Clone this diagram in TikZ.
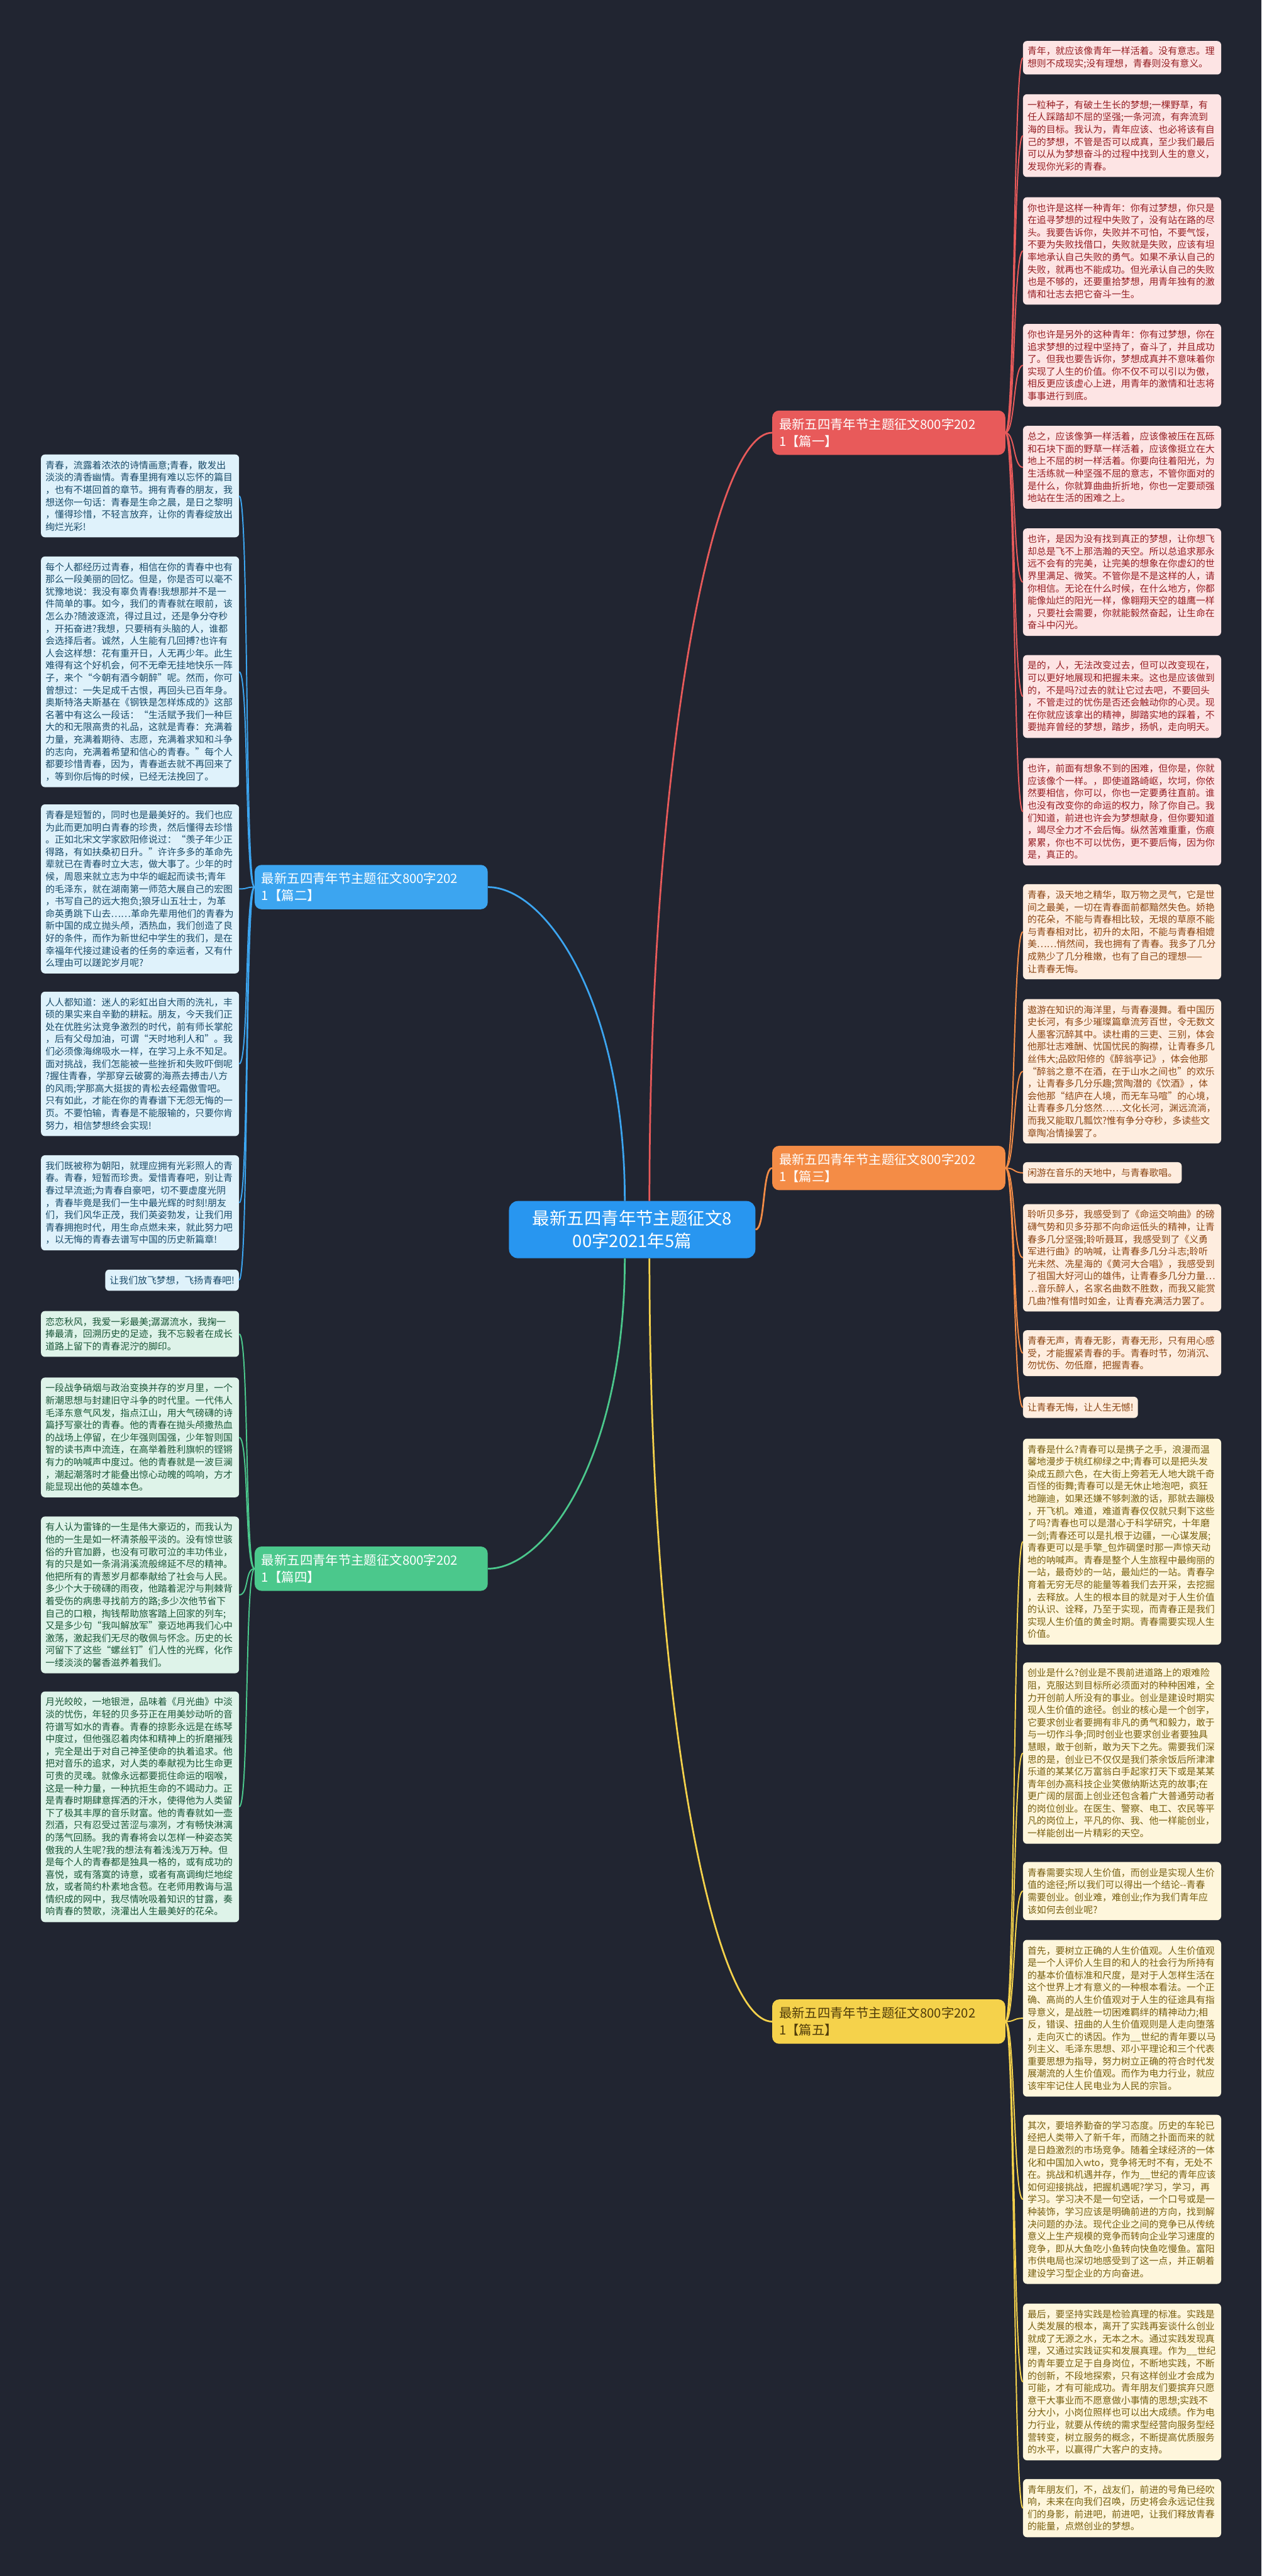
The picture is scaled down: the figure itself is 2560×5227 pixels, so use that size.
\documentclass[tikz,border=0pt]{standalone}
\usepackage{fontspec}
\newfontfamily\cjk{Noto Sans CJK SC}
\usetikzlibrary{calc}
\definecolor{bgdark}{RGB}{33,37,49}
\definecolor{rootblue}{RGB}{40,150,240}
\definecolor{rline}{RGB}{232,90,90}
\definecolor{rfill}{RGB}{253,228,228}
\definecolor{rtext}{RGB}{150,30,35}
\definecolor{oline}{RGB}{244,140,70}
\definecolor{ofill}{RGB}{254,237,223}
\definecolor{otext}{RGB}{140,70,20}
\definecolor{yline}{RGB}{245,210,75}
\definecolor{yfill}{RGB}{254,246,220}
\definecolor{ytext}{RGB}{120,95,15}
\definecolor{ydark}{RGB}{80,60,10}
\definecolor{bline}{RGB}{60,165,240}
\definecolor{bfill}{RGB}{223,242,251}
\definecolor{btext}{RGB}{25,75,105}
\definecolor{gline}{RGB}{75,200,140}
\definecolor{gfill}{RGB}{222,243,233}
\definecolor{gtext}{RGB}{25,85,55}

\begin{document}
\begin{tikzpicture}[x=1pt, y=-1pt,
    card/.style={anchor=north west, rounded corners=8pt, inner xsep=9pt, inner ysep=0pt,
      text width=384pt, align=left, minimum height={25pt*#1+18pt},
      font=\cjk\fontsize{19}{25}\selectfont},
    line1/.style={anchor=north west, rounded corners=8pt, inner xsep=9pt, inner ysep=0pt,
      minimum height=43pt, font=\cjk\fontsize{19}{25}\selectfont},
    rcard/.style={card=#1, fill=rfill, text=rtext},
    ocard/.style={card=#1, fill=ofill, text=otext},
    ycard/.style={card=#1, fill=yfill, text=ytext},
    bcard/.style={card=#1, fill=bfill, text=btext},
    gcard/.style={card=#1, fill=gfill, text=gtext},
    topic/.style={rounded corners=14pt, inner xsep=14pt, text width=445pt, align=left,
      minimum height=90pt, text=white, font=\cjk\fontsize{26}{34}\selectfont},
    wire/.style={line width=2.5pt},
    trunk/.style={line width=3.5pt}]

    % Background
    \fill[bgdark] (0,0) rectangle (2560,5227);
    \useasboundingbox (0,0) rectangle (2560,5227);

    % Root
    \node[fill=rootblue, text=white, rounded corners=18pt, minimum width=500pt,
      minimum height=116pt, align=center, font=\cjk\fontsize{35}{46}\selectfont]
      (root) at (1283,2495) {最新五四青年节主题征文8\\00字2021年5篇};

    % Topics
    \node[topic, fill=rline, anchor=west] (p1) at (1567,878) {最新五四青年节主题征文800字202\\1【篇一】};
    \node[topic, fill=bline, anchor=east] (p2) at (990,1800) {最新五四青年节主题征文800字202\\1【篇二】};
    \node[topic, fill=oline, anchor=west] (p3) at (1567,2370) {最新五四青年节主题征文800字202\\1【篇三】};
    \node[topic, fill=gline, anchor=east] (p4) at (990,3183) {最新五四青年节主题征文800字202\\1【篇四】};
    \node[topic, fill=yline, text=ydark, anchor=west] (p5) at (1567,4102) {最新五四青年节主题征文800字202\\1【篇五】};

    % Root to topics
    \draw[trunk, rline] ($(root.north)+(35,0)$) .. controls +(0,-900) and +(-120,0) .. (p1.west);
    \draw[trunk, oline] (root.east) .. controls +(20,0) and +(-20,0) .. (p3.west);
    \draw[trunk, yline] ($(root.south)+(35,0)$) .. controls +(0,900) and +(-120,0) .. (p5.west);
    \draw[trunk, bline] ($(root.north)+(-15,0)$) .. controls +(0,-400) and +(120,0) .. (p2.east);
    \draw[trunk, gline] ($(root.south)+(-15,0)$) .. controls +(0,400) and +(120,0) .. (p4.east);

    % Part one
    \node[rcard=2] (r1) at (2076,83) {青年，就应该像青年一样活着。没有意志。理\\想则不成现实;没有理想，青春则没有意义。};
    \node[rcard=6] (r2) at (2076,191) {一粒种子，有破土生长的梦想;一棵野草，有\\任人踩踏却不屈的坚强;一条河流，有奔流到\\海的目标。我认为，青年应该、也必将该有自\\己的梦想，不管是否可以成真，至少我们最后\\可以从为梦想奋斗的过程中找到人生的意义，\\发现你光彩的青春。};
    \node[rcard=8] (r3) at (2076,400) {你也许是这样一种青年：你有过梦想，你只是\\在追寻梦想的过程中失败了，没有站在路的尽\\头。我要告诉你，失败并不可怕，不要气馁，\\不要为失败找借口，失败就是失败，应该有坦\\率地承认自己失败的勇气。如果不承认自己的\\失败，就再也不能成功。但光承认自己的失败\\也是不够的，还要重拾梦想，用青年独有的激\\情和壮志去把它奋斗一生。};
    \node[rcard=6] (r4) at (2076,657) {你也许是另外的这种青年：你有过梦想，你在\\追求梦想的过程中坚持了，奋斗了，并且成功\\了。但我也要告诉你，梦想成真并不意味着你\\实现了人生的价值。你不仅不可以引以为傲，\\相反更应该虚心上进，用青年的激情和壮志将\\事事进行到底。};
    \node[rcard=6] (r5) at (2076,864) {总之，应该像笋一样活着，应该像被压在瓦砾\\和石块下面的野草一样活着，应该像挺立在大\\地上不屈的树一样活着。你要向往着阳光，为\\生活练就一种坚强不屈的意志，不管你面对的\\是什么，你就算曲曲折折地，你也一定要顽强\\地站在生活的困难之上。};
    \node[rcard=8] (r6) at (2076,1072) {也许，是因为没有找到真正的梦想，让你想飞\\却总是飞不上那浩瀚的天空。所以总追求那永\\远不会有的完美，让完美的想象在你虚幻的世\\界里满足、微笑。不管你是不是这样的人，请\\你相信。无论在什么时候，在什么地方，你都\\能像灿烂的阳光一样，像翱翔天空的雄鹰一样\\，只要社会需要，你就能毅然奋起，让生命在\\奋斗中闪光。};
    \node[rcard=6] (r7) at (2076,1329) {是的，人，无法改变过去，但可以改变现在，\\可以更好地展现和把握未来。这也是应该做到\\的，不是吗?过去的就让它过去吧，不要回头\\，不管走过的忧伤是否还会触动你的心灵。现\\在你就应该拿出的精神，脚踏实地的踩着，不\\要抛弃曾经的梦想，踏步，扬帆，走向明天。};
    \node[rcard=8] (r8) at (2076,1538) {也许，前面有想象不到的困难，但你是，你就\\应该像个一样。，即使道路崎岖，坎坷，你依\\然要相信，你可以，你也一定要勇往直前。谁\\也没有改变你的命运的权力，除了你自己。我\\们知道，前进也许会为梦想献身，但你要知道\\，竭尽全力才不会后悔。纵然苦难重重，伤痕\\累累，你也不可以忧伤，更不要后悔，因为你\\是，真正的。};
    \foreach \n in {1,...,8}
      \draw[wire, rline] (p1.east) .. controls +(20,0) and +(-20,0) .. (r\n.west);

    % Part three
    \node[ocard=7] (o1) at (2076,1794) {青春，汲天地之精华，取万物之灵气，它是世\\间之最美，一切在青春面前都黯然失色。娇艳\\的花朵，不能与青春相比较，无垠的草原不能\\与青春相对比，初升的太阳，不能与青春相媲\\美……悄然间，我也拥有了青春。我多了几分\\成熟少了几分稚嫩，也有了自己的理想——\\让青春无悔。};
    \node[ocard=11] (o2) at (2076,2027) {遨游在知识的海洋里，与青春漫舞。看中国历\\史长河，有多少璀璨篇章流芳百世，令无数文\\人墨客沉醉其中。读杜甫的三吏、三别，体会\\他那壮志难酬、忧国忧民的胸襟，让青春多几\\丝伟大;品欧阳修的《醉翁亭记》，体会他那\\“醉翁之意不在酒，在于山水之间也”的欢乐\\，让青春多几分乐趣;赏陶潜的《饮酒》，体\\会他那“结庐在人境，而无车马喧”的心境，\\让青春多几分悠然……文化长河，渊远流淌，\\而我又能取几瓢饮?惟有争分夺秒，多读些文\\章陶冶情操罢了。};
    \node[line1, fill=ofill, text=otext] (o3) at (2076,2358) {闲游在音乐的天地中，与青春歌唱。};
    \node[ocard=8] (o4) at (2076,2443) {聆听贝多芬，我感受到了《命运交响曲》的磅\\礴气势和贝多芬那不向命运低头的精神，让青\\春多几分坚强;聆听聂耳，我感受到了《义勇\\军进行曲》的呐喊，让青春多几分斗志;聆听\\光未然、冼星海的《黄河大合唱》，我感受到\\了祖国大好河山的雄伟，让青春多几分力量…\\…音乐醉人，名家名曲数不胜数，而我又能赏\\几曲?惟有惜时如金，让青春充满活力罢了。};
    \node[ocard=3] (o5) at (2076,2699) {青春无声，青春无影，青春无形，只有用心感\\受，才能握紧青春的手。青春时节，勿消沉、\\勿忧伤、勿低靡，把握青春。};
    \node[line1, fill=ofill, text=otext] (o6) at (2076,2834) {让青春无悔，让人生无憾!};
    \foreach \n in {1,...,6}
      \draw[wire, oline] (p3.east) .. controls +(20,0) and +(-20,0) .. (o\n.west);

    % Part five
    \node[ycard=16] (y1) at (2076,2919) {青春是什么?青春可以是携子之手，浪漫而温\\馨地漫步于桃红柳绿之中;青春可以是把头发\\染成五颜六色，在大街上旁若无人地大跳千奇\\百怪的街舞;青春可以是无休止地泡吧，疯狂\\地蹦迪，如果还嫌不够刺激的话，那就去蹦极\\，开飞机。难道，难道青春仅仅就只剩下这些\\了吗?青春也可以是潜心于科学研究，十年磨\\一剑;青春还可以是扎根于边疆，一心谋发展;\\青春更可以是手擎\_包炸碉堡时那一声惊天动\\地的呐喊声。青春是整个人生旅程中最绚丽的\\一站，最奇妙的一站，最灿烂的一站。青春孕\\育着无穷无尽的能量等着我们去开采，去挖掘\\，去释放。人生的根本目的就是对于人生价值\\的认识、诠释，乃至于实现，而青春正是我们\\实现人生价值的黄金时期。青春需要实现人生\\价值。};
    \node[ycard=14] (y2) at (2076,3373) {创业是什么?创业是不畏前进道路上的艰难险\\阻，克服达到目标所必须面对的种种困难，全\\力开创前人所没有的事业。创业是建设时期实\\现人生价值的途径。创业的核心是一个创字，\\它要求创业者要拥有非凡的勇气和毅力，敢于\\与一切作斗争;同时创业也要求创业者要独具\\慧眼，敢于创新，敢为天下之先。需要我们深\\思的是，创业已不仅仅是我们茶余饭后所津津\\乐道的某某亿万富翁白手起家打天下或是某某\\青年创办高科技企业笑傲纳斯达克的故事;在\\更广阔的层面上创业还包含着广大普通劳动者\\的岗位创业。在医生、警察、电工、农民等平\\凡的岗位上，平凡的你、我、他一样能创业，\\一样能创出一片精彩的天空。};
    \node[ycard=4] (y3) at (2076,3778) {青春需要实现人生价值，而创业是实现人生价\\值的途径;所以我们可以得出一个结论--青春\\需要创业。创业难，难创业;作为我们青年应\\该如何去创业呢?};
    \node[ycard=12] (y4) at (2076,3936) {首先，要树立正确的人生价值观。人生价值观\\是一个人评价人生目的和人的社会行为所持有\\的基本价值标准和尺度，是对于人怎样生活在\\这个世界上才有意义的一种根本看法。一个正\\确、高尚的人生价值观对于人生的征途具有指\\导意义，是战胜一切困难羁绊的精神动力;相\\反，错误、扭曲的人生价值观则是人走向堕落\\，走向灭亡的诱因。作为\_\_世纪的青年要以马\\列主义、毛泽东思想、邓小平理论和三个代表\\重要思想为指导，努力树立正确的符合时代发\\展潮流的人生价值观。而作为电力行业，就应\\该牢牢记住人民电业为人民的宗旨。};
    \node[ycard=13] (y5) at (2076,4291) {其次，要培养勤奋的学习态度。历史的车轮已\\经把人类带入了新千年，而随之扑面而来的就\\是日趋激烈的市场竞争。随着全球经济的一体\\化和中国加入wto，竞争将无时不有，无处不\\在。挑战和机遇并存，作为\_\_世纪的青年应该\\如何迎接挑战，把握机遇呢?学习，学习，再\\学习。学习决不是一句空话，一个口号或是一\\种装饰，学习应该是明确前进的方向，找到解\\决问题的办法。现代企业之间的竞争已从传统\\意义上生产规模的竞争而转向企业学习速度的\\竞争，即从大鱼吃小鱼转向快鱼吃慢鱼。富阳\\市供电局也深切地感受到了这一点，并正朝着\\建设学习型企业的方向奋进。};
    \node[ycard=12] (y6) at (2076,4674) {最后，要坚持实践是检验真理的标准。实践是\\人类发展的根本，离开了实践再妄谈什么创业\\就成了无源之水，无本之木。通过实践发现真\\理，又通过实践证实和发展真理。作为\_\_世纪\\的青年要立足于自身岗位，不断地实践，不断\\的创新，不段地探索，只有这样创业才会成为\\可能，才有可能成功。青年朋友们要摈弃只愿\\意干大事业而不愿意做小事情的思想;实践不\\分大小，小岗位照样也可以出大成绩。作为电\\力行业，就要从传统的需求型经营向服务型经\\营转变，树立服务的概念，不断提高优质服务\\的水平，以赢得广大客户的支持。};
    \node[ycard=4] (y7) at (2076,5030) {青年朋友们，不，战友们，前进的号角已经吹\\响，未来在向我们召唤，历史将会永远记住我\\们的身影，前进吧，前进吧，让我们释放青春\\的能量，点燃创业的梦想。};
    \foreach \n in {1,...,7}
      \draw[wire, yline] (p5.east) .. controls +(20,0) and +(-20,0) .. (y\n.west);

    % Part two
    \node[bcard=6] (b1) at (83,922) {青春，流露着浓浓的诗情画意;青春，散发出\\淡淡的清香幽情。青春里拥有难以忘怀的篇目\\，也有不堪回首的章节。拥有青春的朋友，我\\想送你一句话：青春是生命之晨，是日之黎明\\，懂得珍惜，不轻言放弃，让你的青春绽放出\\绚烂光彩!};
    \node[bcard=18] (b2) at (83,1129) {每个人都经历过青春，相信在你的青春中也有\\那么一段美丽的回忆。但是，你是否可以毫不\\犹豫地说：我没有辜负青春!我想那并不是一\\件简单的事。如今，我们的青春就在眼前，该\\怎么办?随波逐流，得过且过，还是争分夺秒\\，开拓奋进?我想，只要稍有头脑的人，谁都\\会选择后者。诚然，人生能有几回搏?也许有\\人会这样想：花有重开日，人无再少年。此生\\难得有这个好机会，何不无牵无挂地快乐一阵\\子，来个“今朝有酒今朝醉”呢。然而，你可\\曾想过：一失足成千古恨，再回头已百年身。\\奥斯特洛夫斯基在《钢铁是怎样炼成的》这部\\名著中有这么一段话：“生活赋予我们一种巨\\大的和无限高贵的礼品，这就是青春：充满着\\力量，充满着期待、志愿，充满着求知和斗争\\的志向，充满着希望和信心的青春。”每个人\\都要珍惜青春，因为，青春逝去就不再回来了\\，等到你后悔的时候，已经无法挽回了。};
    \node[bcard=13] (b3) at (83,1632) {青春是短暂的，同时也是最美好的。我们也应\\为此而更加明白青春的珍贵，然后懂得去珍惜\\。正如北宋文学家欧阳修说过：“羡子年少正\\得路，有如扶桑初日升。”许许多多的革命先\\辈就已在青春时立大志，做大事了。少年的时\\候，周恩来就立志为中华的崛起而读书;青年\\的毛泽东，就在湖南第一师范大展自己的宏图\\，书写自己的远大抱负;狼牙山五壮士，为革\\命英勇跳下山去……革命先辈用他们的青春为\\新中国的成立抛头颅，洒热血，我们创造了良\\好的条件，而作为新世纪中学生的我们，是在\\幸福年代接过建设者的任务的幸运者，又有什\\么理由可以蹉跎岁月呢?};
    \node[bcard=11] (b4) at (83,2012) {人人都知道：迷人的彩虹出自大雨的洗礼，丰\\硕的果实来自辛勤的耕耘。朋友，今天我们正\\处在优胜劣汰竞争激烈的时代，前有师长掌舵\\，后有父母加油，可谓“天时地利人和”。我\\们必须像海绵吸水一样，在学习上永不知足。\\面对挑战，我们怎能被一些挫折和失败吓倒呢\\?握住青春，学那穿云破雾的海燕去搏击八方\\的风雨;学那高大挺拔的青松去经霜傲雪吧。\\只有如此，才能在你的青春谱下无怨无悔的一\\页。不要怕输，青春是不能服输的，只要你肯\\努力，相信梦想终会实现!};
    \node[bcard=7] (b5) at (83,2344) {我们既被称为朝阳，就理应拥有光彩照人的青\\春。青春，短暂而珍贵。爱惜青春吧，别让青\\春过早流逝;为青春自豪吧，切不要虚度光阴\\，青春毕竟是我们一生中最光辉的时刻!朋友\\们，我们风华正茂，我们英姿勃发，让我们用\\青春拥抱时代，用生命点燃未来，就此努力吧\\，以无悔的青春去谱写中国的历史新篇章!};
    \node[line1, fill=bfill, text=btext, anchor=north east] (b6) at (485,2576) {让我们放飞梦想，飞扬青春吧!};
    \foreach \n in {1,...,6}
      \draw[wire, bline] (p2.west) .. controls +(-20,0) and +(20,0) .. (b\n.east);

    % Part four
    \node[gcard=3] (g1) at (83,2660) {恋恋秋风，我爱一彩最美;潺潺流水，我掬一\\捧最清，回溯历史的足迹，我不忘毅者在成长\\道路上留下的青春泥泞的脚印。};
    \node[gcard=9] (g2) at (83,2795) {一段战争硝烟与政治变换并存的岁月里，一个\\新潮思想与封建旧守斗争的时代里。一代伟人\\毛泽东意气风发，指点江山，用大气磅礴的诗\\篇抒写豪壮的青春。他的青春在抛头颅撒热血\\的战场上停留，在少年强则国强，少年智则国\\智的读书声中流连，在高举着胜利旗帜的铿锵\\有力的呐喊声中度过。他的青春就是一波巨澜\\，潮起潮落时才能叠出惊心动魄的鸣响，方才\\能显现出他的英雄本色。};
    \node[gcard=12] (g3) at (83,3077) {有人认为雷锋的一生是伟大豪迈的，而我认为\\他的一生是如一杯清茶般平淡的。没有惊世骇\\俗的升官加爵，也没有可歌可泣的丰功伟业，\\有的只是如一条涓涓溪流般绵延不尽的精神。\\他把所有的青葱岁月都奉献给了社会与人民。\\多少个大于磅礴的雨夜，他踏着泥泞与荆棘背\\着受伤的病患寻找前方的路;多少次他节省下\\自己的口粮，掏钱帮助旅客踏上回家的列车;\\又是多少句“我叫解放军”豪迈地再我们心中\\激荡，激起我们无尽的敬佩与怀念。历史的长\\河留下了这些“螺丝钉”们人性的光辉，化作\\一缕淡淡的馨香滋养着我们。};
    \node[gcard=18] (g4) at (83,3432) {月光皎皎，一地银泄，品味着《月光曲》中淡\\淡的忧伤，年轻的贝多芬正在用美妙动听的音\\符谱写如水的青春。青春的掠影永远是在练琴\\中度过，但他强忍着肉体和精神上的折磨摧残\\，完全是出于对自己神圣使命的执着追求。他\\把对音乐的追求，对人类的奉献视为比生命更\\可贵的灵魂。就像永远都要扼住命运的咽喉，\\这是一种力量，一种抗拒生命的不竭动力。正\\是青春时期肆意挥洒的汗水，使得他为人类留\\下了极其丰厚的音乐财富。他的青春就如一壶\\烈酒，只有忍受过苦涩与凛冽，才有畅快淋漓\\的荡气回肠。我的青春将会以怎样一种姿态笑\\傲我的人生呢?我的想法有着浅浅万万种。但\\是每个人的青春都是独具一格的，或有成功的\\喜悦，或有落寞的诗意，或者有高调绚烂地绽\\放，或者简约朴素地含苞。在老师用教诲与温\\情织成的网中，我尽情吮吸着知识的甘露，奏\\响青春的赞歌，浇灌出人生最美好的花朵。};
    \foreach \n in {1,...,4}
      \draw[wire, gline] (p4.west) .. controls +(-20,0) and +(20,0) .. (g\n.east);
\end{tikzpicture}
\end{document}
